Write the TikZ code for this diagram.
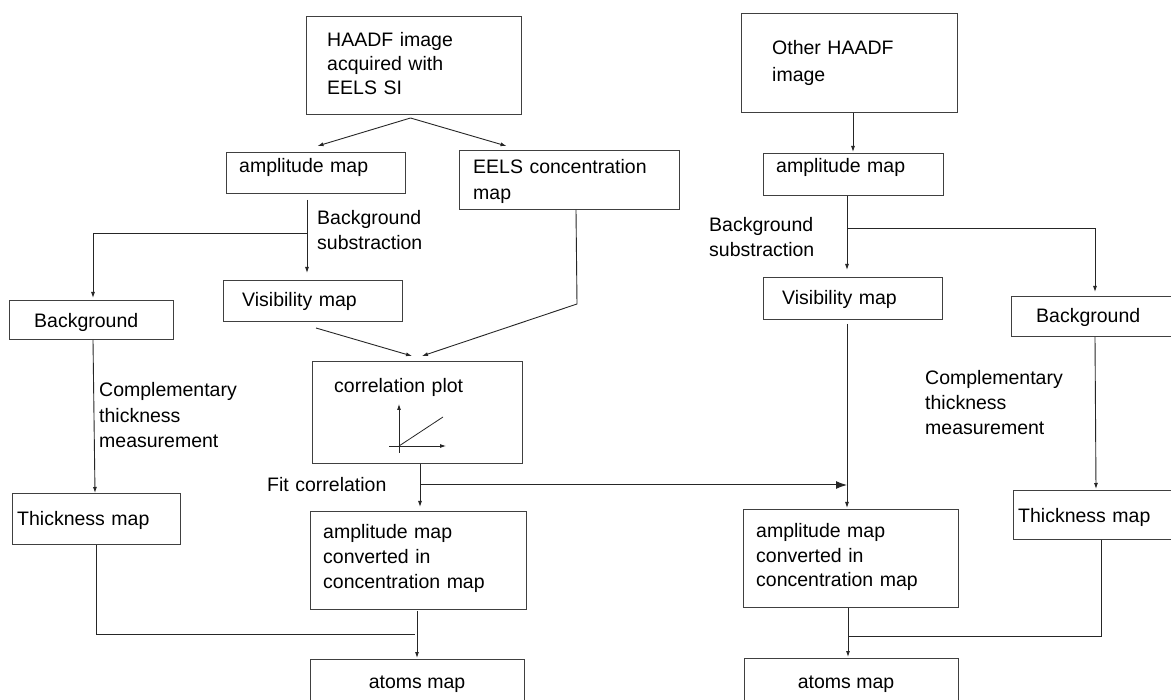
\documentclass[tikz,border=0pt]{standalone}
\usepackage{fontspec}
\setmainfont{Liberation Sans}
\usetikzlibrary{arrows.meta,calc}

\begin{document}
\begin{tikzpicture}[x=1pt,y=-1pt,
  every node/.style={font=\fontsize{19.5}{25}\selectfont},
  box/.style={draw=black!75,line width=1pt,inner sep=0pt,anchor=north west},
  txt/.style={inner sep=0pt,anchor=base west,align=left,text width=#1},
  txt/.default=300pt,
  flow/.style={draw=black!85,line width=0.9pt,-{Latex[length=6pt,width=4pt]}},
  wire/.style={draw=black!85,line width=0.9pt},
  bigflow/.style={draw=black!85,line width=1pt,-{Latex[length=11pt,width=8pt]}}]

\useasboundingbox (0,0) rectangle (1171,700);
\clip (0,0) rectangle (1171,700);
\fill[white] (0,0) rectangle (1171,700);

% boxes: top-left corner, width, height
\newcommand{\mkbox}[5]{\node[box,minimum width=#4pt,minimum height=#5pt] (#1) at (#2,#3) {};}
\mkbox{haadf}{306}{16}{215}{98}
\mkbox{ampA}{226}{152}{179}{41}
\mkbox{eels}{459}{150}{220}{59}
\mkbox{visA}{223}{280}{179}{41}
\mkbox{bgA}{9}{300}{164}{39}
\mkbox{corr}{312}{361}{210}{102}
\mkbox{thickA}{12}{493}{168}{51}
\mkbox{convA}{310}{511}{216}{98}
\mkbox{atomsA}{310}{659}{214}{70}
\mkbox{other}{741}{13}{216}{99}
\mkbox{ampB}{763}{153}{180}{42}
\mkbox{visB}{763}{277}{179}{42}
\mkbox{bgB}{1011}{296}{180}{40}
\mkbox{thickB}{1013}{490}{180}{49}
\mkbox{convB}{743}{509}{215}{98}
\mkbox{atomsB}{744}{658}{214}{70}

% box texts
\node[txt] (thaadf) at (327,47) {HAADF image\\[-1pt]acquired with\\[-1pt]EELS SI};
\node[txt] (tampA) at (239,173) {amplitude map};
\node[txt] (teels) at (473,174) {EELS concentration\\[1pt]map};
\node[txt] (tvisA) at (242,307) {Visibility map};
\node[txt] (tbgA) at (34,328) {Background};
\node[txt] (tcorr) at (334,393) {correlation plot};
\node[txt] (tthickA) at (17,526) {Thickness map};
\node[txt] (tconvA) at (323,539) {amplitude map\\converted in\\concentration map};
\node[inner sep=0pt,anchor=base] (tatomsA) at (417,688) {atoms map};
\node[txt] (tother) at (772,55) {Other HAADF\\[2pt]image};
\node[txt] (tampB) at (776,173) {amplitude map};
\node[txt] (tvisB) at (782,305) {Visibility map};
\node[txt] (tbgB) at (1036,323) {Background};
\node[txt] (tthickB) at (1018,522) {Thickness map};
\node[txt] (tconvB) at (756,537) {amplitude map\\converted in\\concentration map};
\node[inner sep=0pt,anchor=base] (tatomsB) at (846,688) {atoms map};

% step labels
\node[txt] (lbgsubA) at (317,225) {Background\\substraction};
\node[txt] (lbgsubB) at (709,232) {Background\\substraction};
\node[txt] (lcompA) at (99,397) {Complementary\\[0.5pt]thickness\\[0.5pt]measurement};
\node[txt] (lcompB) at (925,385) {Complementary\\thickness\\measurement};
\node[txt] (lfit) at (267,492) {Fit correlation};

% small correlation sketch inside the plot box
\coordinate (ax0) at (399,446);
\draw[flow,line width=0.8pt] (399,453) -- (399,404);
\draw[flow,line width=0.8pt] (389,446) -- (446,446);
\draw[wire,line width=0.8pt] (ax0) -- (443,417);

% left chain
\coordinate (hs) at ($(haadf.south)+(-3.5,3)$);
\draw[flow] (hs) -- ($(ampA.north)+(1.5,-6)$);
\draw[flow] (hs) -- ($(eels.north)+(-63,-4)$);

\coordinate (ampAout) at ($(ampA.south west)+(81,6)$);
\coordinate (splitA) at ($(ampA.south west)+(81,39)$);
\draw[flow] (ampAout) -- ($(visA.north west)+(84,-7)$);
\draw[flow] (splitA) -| ($(bgA.north west)+(84,-2)$);

\draw[flow] ($(bgA.south west)+(84,0)$) -- ($(thickA.north west)+(83,0)$);

\draw[flow] ($(eels.south west)+(117,0)$) -- ($(eels.south west)+(118,94)$) -- ($(corr.north west)+(110,-5)$);
\draw[flow] ($(visA.south west)+(93,6)$) -- ($(corr.north west)+(100,-5)$);

\draw[flow] ($(corr.south west)+(108,0)$) -- ($(convA.north west)+(110,-4)$);

\draw[wire] ($(thickA.south west)+(84,0)$) |- ($(convA.south west)+(105,24)$);
\draw[flow] ($(convA.south west)+(107,1)$) -- ($(atomsA.north west)+(107,-1)$);

% fitted correlation carried to the second image
\draw[bigflow] ($(corr.south west)+(109,21)$) -- ($(visB.south west)+(84,165)$);

% right chain
\draw[flow] ($(other.south west)+(112,0)$) -- ($(ampB.north west)+(90,-1)$);

\coordinate (splitB) at ($(ampB.south west)+(84,32)$);
\draw[flow] ($(ampB.south west)+(84,0)$) -- ($(visB.north west)+(84,-7)$);
\draw[flow] (splitB) -| ($(bgB.north west)+(84,-4)$);

\draw[flow] ($(visB.south west)+(84,4)$) -- ($(convB.north west)+(104,-1)$);
\draw[flow] ($(bgB.south west)+(84,0)$) -- ($(thickB.north west)+(83,-1)$);

\draw[wire] ($(thickB.south west)+(88,0)$) |- ($(convB.south west)+(105,28)$);
\draw[flow] ($(convB.south west)+(105,0)$) -- ($(atomsB.north west)+(104,-1)$);

\end{tikzpicture}
\end{document}
